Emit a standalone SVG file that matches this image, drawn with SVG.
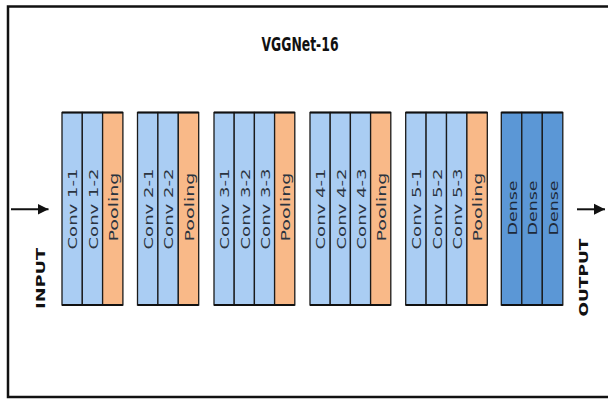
<svg xmlns="http://www.w3.org/2000/svg" width="608" height="399" viewBox="0 0 608 399">
<style>
.conv{fill:#aacdf3;stroke:#1a1a1a;stroke-width:1.3}
.pool{fill:#f9b988;stroke:#1a1a1a;stroke-width:1.3}
.dense{fill:#5b97d6;stroke:#1a1a1a;stroke-width:1.3}
.edge{fill:none;stroke:#111;stroke-width:2.2}
.lbl{font-family:"DejaVu Sans",Verdana,sans-serif;font-size:12.5px;fill:#2b3440;text-anchor:middle}
.io{font-family:"DejaVu Sans",Verdana,sans-serif;font-size:12px;font-weight:bold;fill:#111;text-anchor:middle}
.arrow{stroke:#111;stroke-width:2;fill:none}
</style>
<defs>
<marker id="ah" markerWidth="12" markerHeight="12" refX="11" refY="6" orient="auto" markerUnits="userSpaceOnUse">
<path d="M0,0.5 L11,6 L0,11.5 Z" fill="#111"/>
</marker>
</defs>
<rect x="0" y="0" width="608" height="399" fill="#fff"/>
<rect id="frame" x="8" y="6.5" width="620" height="390.5" fill="none" stroke="#111" stroke-width="2.5"/>
<text id="title" x="300" y="50.5" font-family="'DejaVu Sans Condensed','Liberation Sans Narrow','DejaVu Sans',sans-serif" font-weight="bold" font-size="19.5" text-anchor="middle" textLength="77" lengthAdjust="spacingAndGlyphs" fill="#111">VGGNet-16</text>

<g id="block1">
<rect class="conv" x="62" y="112.5" width="20.3" height="192.5"/>
<rect class="conv" x="82.3" y="112.5" width="20.3" height="192.5"/>
<rect class="pool" x="102.6" y="112.5" width="20.3" height="192.5"/>
<line class="edge" x1="62" y1="112.5" x2="122.9" y2="112.5"/><line class="edge" x1="62" y1="305" x2="122.9" y2="305"/>
<text class="lbl" transform="translate(77.4,209) rotate(-90)" textLength="81" lengthAdjust="spacingAndGlyphs">Conv 1-1</text>
<text class="lbl" transform="translate(97.7,209) rotate(-90)" textLength="81" lengthAdjust="spacingAndGlyphs">Conv 1-2</text>
<text class="lbl" transform="translate(118,207) rotate(-90)" textLength="69" lengthAdjust="spacingAndGlyphs">Pooling</text>
</g>

<g id="block2">
<rect class="conv" x="137.5" y="112.5" width="20.4" height="192.5"/>
<rect class="conv" x="157.9" y="112.5" width="20.4" height="192.5"/>
<rect class="pool" x="178.3" y="112.5" width="20.4" height="192.5"/>
<line class="edge" x1="137.5" y1="112.5" x2="198.7" y2="112.5"/><line class="edge" x1="137.5" y1="305" x2="198.7" y2="305"/>
<text class="lbl" transform="translate(152.9,209) rotate(-90)" textLength="81" lengthAdjust="spacingAndGlyphs">Conv 2-1</text>
<text class="lbl" transform="translate(173.3,209) rotate(-90)" textLength="81" lengthAdjust="spacingAndGlyphs">Conv 2-2</text>
<text class="lbl" transform="translate(193.7,207) rotate(-90)" textLength="69" lengthAdjust="spacingAndGlyphs">Pooling</text>
</g>

<g id="block3">
<rect class="conv" x="214" y="112.5" width="20.2" height="192.5"/>
<rect class="conv" x="234.2" y="112.5" width="20.2" height="192.5"/>
<rect class="conv" x="254.4" y="112.5" width="20.2" height="192.5"/>
<rect class="pool" x="274.6" y="112.5" width="20.2" height="192.5"/>
<line class="edge" x1="214" y1="112.5" x2="294.8" y2="112.5"/><line class="edge" x1="214" y1="305" x2="294.8" y2="305"/>
<text class="lbl" transform="translate(229.3,209) rotate(-90)" textLength="81" lengthAdjust="spacingAndGlyphs">Conv 3-1</text>
<text class="lbl" transform="translate(249.5,209) rotate(-90)" textLength="81" lengthAdjust="spacingAndGlyphs">Conv 3-2</text>
<text class="lbl" transform="translate(269.7,209) rotate(-90)" textLength="81" lengthAdjust="spacingAndGlyphs">Conv 3-3</text>
<text class="lbl" transform="translate(289.9,207) rotate(-90)" textLength="69" lengthAdjust="spacingAndGlyphs">Pooling</text>
</g>

<g id="block4">
<rect class="conv" x="310" y="112.5" width="20.2" height="192.5"/>
<rect class="conv" x="330.2" y="112.5" width="20.2" height="192.5"/>
<rect class="conv" x="350.4" y="112.5" width="20.2" height="192.5"/>
<rect class="pool" x="370.6" y="112.5" width="20.2" height="192.5"/>
<line class="edge" x1="310" y1="112.5" x2="390.8" y2="112.5"/><line class="edge" x1="310" y1="305" x2="390.8" y2="305"/>
<text class="lbl" transform="translate(325.3,209) rotate(-90)" textLength="81" lengthAdjust="spacingAndGlyphs">Conv 4-1</text>
<text class="lbl" transform="translate(345.5,209) rotate(-90)" textLength="81" lengthAdjust="spacingAndGlyphs">Conv 4-2</text>
<text class="lbl" transform="translate(365.7,209) rotate(-90)" textLength="81" lengthAdjust="spacingAndGlyphs">Conv 4-3</text>
<text class="lbl" transform="translate(385.9,207) rotate(-90)" textLength="69" lengthAdjust="spacingAndGlyphs">Pooling</text>
</g>

<g id="block5">
<rect class="conv" x="405.7" y="112.5" width="20.4" height="192.5"/>
<rect class="conv" x="426.1" y="112.5" width="20.4" height="192.5"/>
<rect class="conv" x="446.5" y="112.5" width="20.4" height="192.5"/>
<rect class="pool" x="466.9" y="112.5" width="20.4" height="192.5"/>
<line class="edge" x1="405.7" y1="112.5" x2="487.3" y2="112.5"/><line class="edge" x1="405.7" y1="305" x2="487.3" y2="305"/>
<text class="lbl" transform="translate(421.1,209) rotate(-90)" textLength="81" lengthAdjust="spacingAndGlyphs">Conv 5-1</text>
<text class="lbl" transform="translate(441.5,209) rotate(-90)" textLength="81" lengthAdjust="spacingAndGlyphs">Conv 5-2</text>
<text class="lbl" transform="translate(461.9,209) rotate(-90)" textLength="81" lengthAdjust="spacingAndGlyphs">Conv 5-3</text>
<text class="lbl" transform="translate(482.3,207) rotate(-90)" textLength="69" lengthAdjust="spacingAndGlyphs">Pooling</text>
</g>

<g id="dense">
<rect class="dense" x="501.3" y="112.5" width="20.5" height="192.5"/>
<rect class="dense" x="521.8" y="112.5" width="20.5" height="192.5"/>
<rect class="dense" x="542.3" y="112.5" width="20.5" height="192.5"/>
<line class="edge" x1="501.3" y1="112.5" x2="562.8" y2="112.5"/><line class="edge" x1="501.3" y1="305" x2="562.8" y2="305"/>
<text class="lbl" transform="translate(516.7,208) rotate(-90)" textLength="55" lengthAdjust="spacingAndGlyphs" style="fill:#1e2a3a">Dense</text>
<text class="lbl" transform="translate(537.2,208) rotate(-90)" textLength="55" lengthAdjust="spacingAndGlyphs" style="fill:#1e2a3a">Dense</text>
<text class="lbl" transform="translate(557.7,208) rotate(-90)" textLength="55" lengthAdjust="spacingAndGlyphs" style="fill:#1e2a3a">Dense</text>
</g>

<g id="input">
<text class="io" transform="translate(45,278.5) rotate(-90)" textLength="61" lengthAdjust="spacingAndGlyphs">INPUT</text>
</g>
<g id="output">
<text class="io" transform="translate(587.8,277.5) rotate(-90)" textLength="78" lengthAdjust="spacingAndGlyphs">OUTPUT</text>
</g>

<g id="connectors">
<line class="arrow" x1="11" y1="209.3" x2="48.5" y2="209.3" marker-end="url(#ah)"/>
<line class="arrow" x1="577" y1="209.3" x2="605" y2="209.3" marker-end="url(#ah)"/>
</g>
</svg>
